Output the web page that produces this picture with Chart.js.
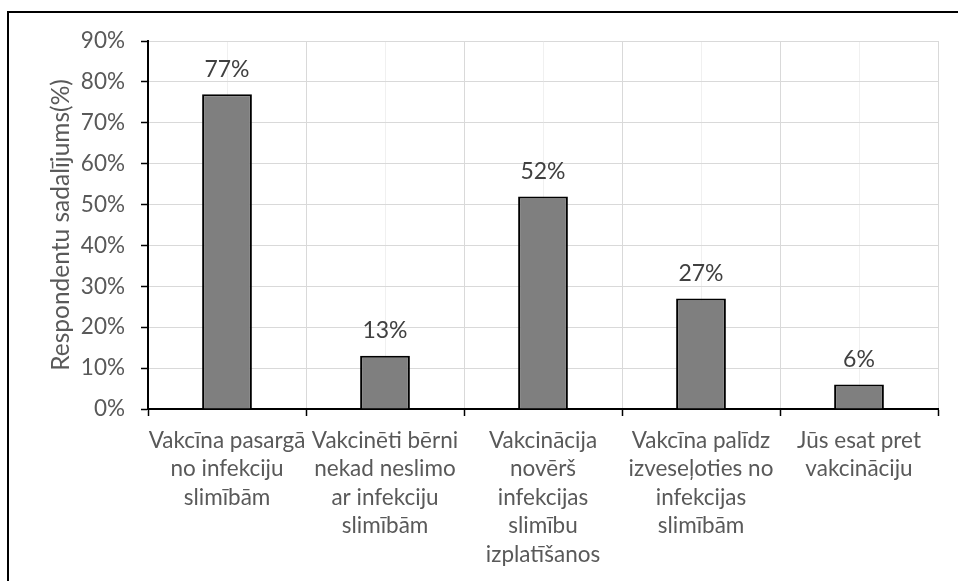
<!DOCTYPE html>
<html>
<head>
<meta charset="utf-8">
<script src="https://cdn.jsdelivr.net/npm/chart.js@4"></script>
<style>
  html, body { margin: 0; padding: 0; background: #fff; }
  #wrap { position: relative; width: 958px; height: 581px; overflow: hidden; }
  #frame { position: absolute; left: 7px; top: 11px; width: 1000px; height: 700px; border: 2px solid #000; box-sizing: border-box; pointer-events: none; }
  canvas { position: absolute; left: 0; top: 0; }
</style>
</head>
<body>
<div id="wrap">
  <canvas id="c" width="958" height="581"></canvas>
  <div id="frame"></div>
</div>
<script>
const categories = [
  ['Vakcīna pasargā', 'no infekciju', 'slimībām'],
  ['Vakcinēti bērni', 'nekad neslimo', 'ar infekciju', 'slimībām'],
  ['Vakcinācija', 'novērš', 'infekcijas', 'slimību', 'izplatīšanos'],
  ['Vakcīna palīdz', 'izveseļoties no', 'infekcijas', 'slimībām'],
  ['Jūs esat pret', 'vakcināciju']
];
const values = [77, 13, 52, 27, 6];
const yTickLabels = ['0%', '10%', '20%', '30%', '40%', '50%', '60%', '70%', '80%', '90%'];
const yTitle = 'Respondentu sadalījums(%)';

const FONT = 'Lato, "Open Sans", sans-serif';

const dataLabels = {
  id: 'dataLabels',
  afterDatasetsDraw(chart) {
    const ctx = chart.ctx;
    const meta = chart.getDatasetMeta(0);
    ctx.save();
    ctx.font = '23px ' + FONT;
    ctx.fillStyle = '#404040';
    ctx.textAlign = 'center';
    ctx.textBaseline = 'middle';
    meta.data.forEach((el, i) => {
      ctx.fillText(values[i] + '%', el.x, el.y - 25);
    });
    ctx.restore();
  }
};

new Chart(document.getElementById('c'), {
  type: 'bar',
  data: {
    labels: categories,
    datasets: [{
      data: values,
      backgroundColor: '#7f7f7f',
      borderColor: '#000000',
      borderWidth: 2,
      barPercentage: 0.315,
      categoryPercentage: 1.0
    }]
  },
  options: {
    responsive: false,
    animation: false,
    layout: { padding: { left: 0, top: 41, right: 20, bottom: 0 } },
    plugins: { legend: { display: false }, tooltip: { enabled: false } },
    scales: {
      x2: {
        type: 'category',
        position: 'bottom',
        offset: true,
        grid: { offset: false, color: '#f0f0f0', lineWidth: 1, drawTicks: false },
        border: { display: false },
        ticks: { display: false },
        afterFit(s) { s.height = 0; }
      },
      x: {
        position: 'bottom',
        offset: true,
        grid: { offset: true, color: '#d9d9d9', lineWidth: 1, tickColor: '#000', tickLength: 7, tickWidth: 1.5 },
        border: { color: '#000', width: 2 },
        ticks: {
          color: '#595959',
          font: { family: FONT, size: 22.5, lineHeight: 1.267 },
          padding: 10,
          maxRotation: 0,
          autoSkip: false
        },
        afterFit(s) { s.height = 172; }
      },
      y: {
        min: 0,
        max: 90,
        ticks: {
          stepSize: 10,
          color: '#595959',
          font: { family: FONT, size: 22.5 },
          padding: 16,
          callback: (v, i) => yTickLabels[i]
        },
        grid: { color: '#d9d9d9', lineWidth: 1, tickColor: '#000', tickLength: 7, tickWidth: 1.5 },
        border: { color: '#000', width: 2 },
        title: {
          display: true,
          text: yTitle,
          color: '#595959',
          font: { family: FONT, size: 24.5 },
          padding: { top: 46, bottom: 0 }
        },
        afterFit(s) { s.width = 148; }
      }
    }
  },
  plugins: [dataLabels]
});
</script>
</body>
</html>
